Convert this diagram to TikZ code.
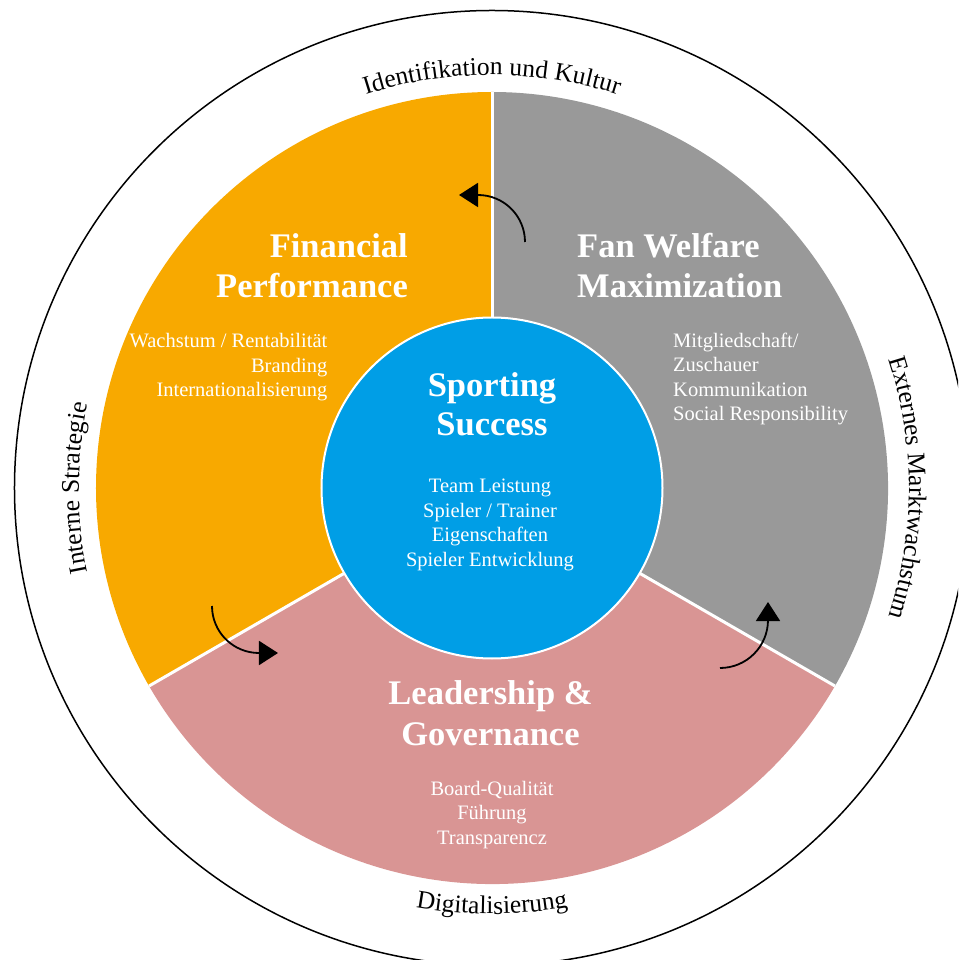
\documentclass[tikz,border=0pt]{standalone}
\usepackage{fontspec}
\setmainfont{Liberation Serif}
\usetikzlibrary{arrows.meta,decorations.text}

\definecolor{finorange}{HTML}{F8A900}
\definecolor{fangray}{HTML}{999999}
\definecolor{leadpink}{HTML}{D99594}
\definecolor{sportblue}{HTML}{009EE6}

\newcommand\titlefont{\fontsize{34.5}{40}\selectfont\bfseries}
\newcommand\itemfont{\fontsize{20.5}{24.5}\selectfont}
\newcommand\ringfont{\fontsize{25.5}{30}\selectfont}

\begin{document}
\begin{tikzpicture}[x=1pt,y=1pt,
  title/.style={text=white, font=\titlefont, inner sep=0pt},
  item/.style={text=white, font=\itemfont, inner sep=0pt},
  flow/.style={line width=1.8pt, -{Triangle[length=19pt,width=24pt]}},
  divider/.style={white, line width=3pt},
  ringtext/.style={decorate, decoration={text along path, text align=center, text={|\ringfont|#1}}}
]
\useasboundingbox (-492,-472) rectangle (466,488);
\clip (-492,-472) rectangle (466,488);

% outer ring
\draw[line width=1.5pt] (0,0) circle[radius=477.5];

% three outer sectors
\fill[finorange] (0,0) -- (90:396) arc[start angle=90, end angle=210, radius=396] -- cycle;
\fill[leadpink] (0,0) -- (210:396) arc[start angle=210, end angle=330, radius=396] -- cycle;
\fill[fangray] (0,0) -- (330:396) arc[start angle=330, end angle=450, radius=396] -- cycle;
\foreach \a in {90,210,330} \draw[divider] (0,0) -- (\a:396);

% core circle
\node[circle, fill=sportblue, draw=white, line width=2pt, minimum size=341pt, inner sep=0pt] (core) at (0,0) {};

% Financial Performance
\node[title, anchor=base east] (fin1) at (-84,230) {Financial};
\node[title, anchor=base east] (fin2) at (-84,190) {Performance};
\node[item, anchor=base east] (fina) at (-164.5,140) {Wachstum / Rentabilität};
\node[item, anchor=base east] (finb) at (-164.5,115.5) {Branding};
\node[item, anchor=base east] (finc) at (-164.5,91) {Internationalisierung};

% Fan Welfare Maximization
\node[title, anchor=base west] (fan1) at (85,230) {Fan Welfare};
\node[title, anchor=base west] (fan2) at (85,190) {Maximization};
\node[item, anchor=base west] (fana) at (181,140.5) {Mitgliedschaft/};
\node[item, anchor=base west] (fanb) at (181,116) {Zuschauer};
\node[item, anchor=base west] (fanc) at (181,91.5) {Kommunikation};
\node[item, anchor=base west] (fand) at (181,67) {Social Responsibility};

% Sporting Success
\node[title, anchor=base] (spo1) at (0,91) {Sporting};
\node[title, anchor=base] (spo2) at (0,52) {Success};
\node[item, anchor=base] (spoa) at (-2,-5) {Team Leistung};
\node[item, anchor=base] (spob) at (-2,-29.5) {Spieler / Trainer};
\node[item, anchor=base] (spoc) at (-2,-54) {Eigenschaften};
\node[item, anchor=base] (spod) at (-2,-78.5) {Spieler Entwicklung};

% Leadership & Governance
\node[title, anchor=base] (lea1) at (-1.5,-216) {Leadership \&};
\node[title, anchor=base] (lea2) at (-1.5,-257) {Governance};
\node[item, anchor=base] (leaa) at (0,-307) {Board-Qualität};
\node[item, anchor=base] (leab) at (0,-331.5) {Führung};
\node[item, anchor=base] (leac) at (0,-356) {Transparencz};

% circulation arrows
\coordinate (fanStart) at (33,246);
\coordinate (finStart) at (-280,-118);
\coordinate (leaStart) at (228,-180);
\draw[flow] (fanStart) arc[start angle=0, end angle=90, radius=47] -- ++(-19,0);
\draw[flow] (finStart) arc[start angle=180, end angle=270, radius=47] -- ++(19,0);
\draw[flow] (leaStart) arc[start angle=270, end angle=360, radius=48] -- ++(0,18);

% ring labels
\path[ringtext={Identifikation und Kultur}] (120:413) arc[start angle=120, end angle=60, radius=413];
\path[ringtext={Externes Marktwachstum}] (35:417) arc[start angle=35, end angle=-35, radius=417];
\path[ringtext={Interne Strategie}] (205:413) arc[start angle=205, end angle=155, radius=413];
\path[ringtext={Digitalisierung}] (250:426) arc[start angle=250, end angle=290, radius=426];
\end{tikzpicture}
\end{document}
